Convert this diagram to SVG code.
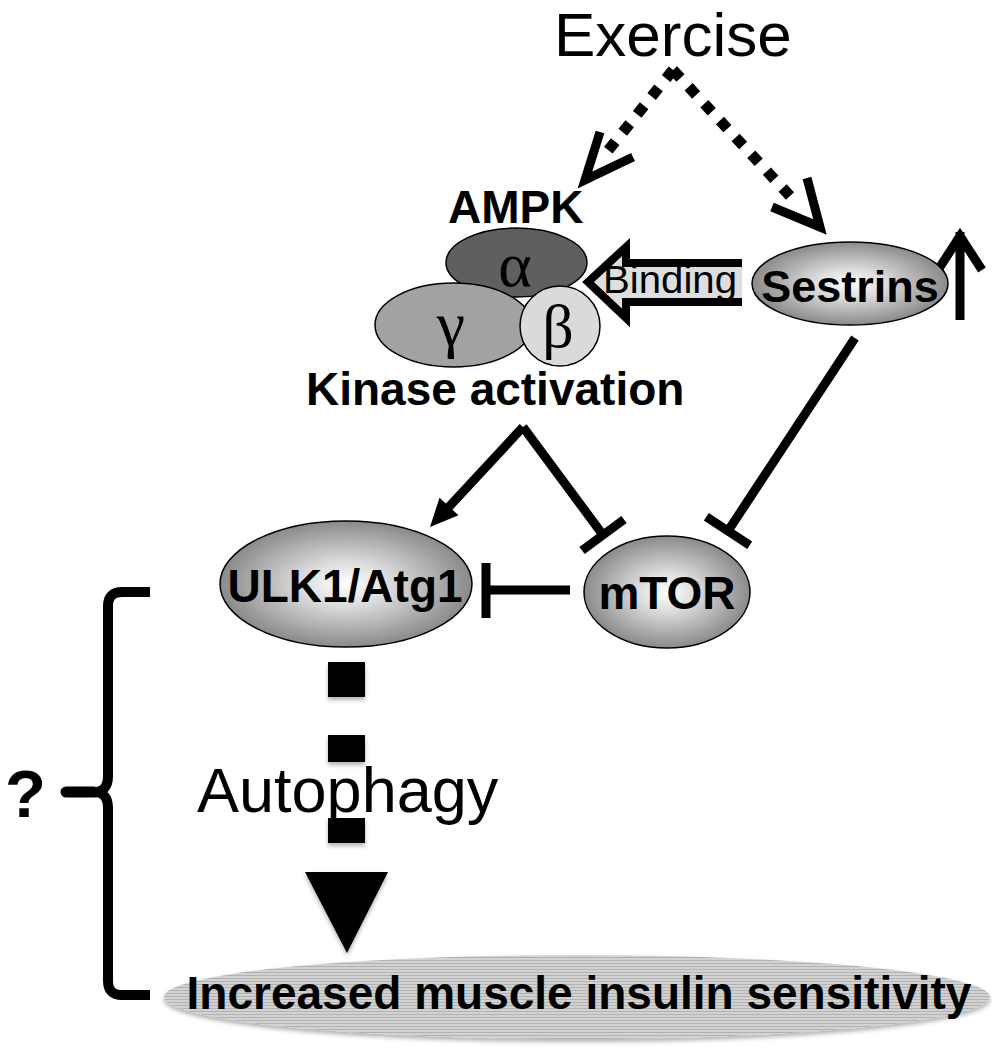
<svg xmlns="http://www.w3.org/2000/svg" width="996" height="1050" viewBox="0 0 996 1050">
<style>
.b{font-family:"Liberation Sans",Arial,sans-serif;font-weight:bold;fill:#000}
.r{font-family:"Liberation Sans",Arial,sans-serif;fill:#000}
.g{font-family:"Liberation Serif","Times New Roman",serif;fill:#000}
.node{fill:url(#rg);stroke:#000;stroke-width:1.5}
.ln{fill:none;stroke:#000;stroke-width:9}
.dot{fill:none;stroke:#000;stroke-width:11;stroke-dasharray:11 12}
</style>
<defs>
<radialGradient id="rg" cx="50%" cy="50%" r="50%">
<stop offset="0" stop-color="#ffffff"/>
<stop offset="0.35" stop-color="#dcdcdc"/>
<stop offset="1" stop-color="#8a8a8a"/>
</radialGradient>
<pattern id="stripe" patternUnits="userSpaceOnUse" width="6" height="3">
<rect width="6" height="3" fill="#d2d2d2"/>
<rect width="6" height="1" fill="#b2b2b2"/>
</pattern>
<filter id="sh" x="-5%" y="-20%" width="110%" height="150%">
<feDropShadow dx="0" dy="3" stdDeviation="2" flood-color="#000" flood-opacity="0.3"/>
</filter>
</defs>
<rect width="996" height="1050" fill="#fff"/>

<g id="connectors">
<!-- Exercise dotted arrows -->
<path class="dot" d="M673,70 L606,153"/>
<path class="ln" d="M600,132 L585,180 L633,157"/>
<path class="dot" d="M673,70 L790,196"/>
<path class="ln" d="M807,178 L820,227 L772,207"/>
<!-- Binding arrow -->
<path d="M742,263 L626,263 L626,247 L588,282 L626,318 L626,302 L742,302" fill="#dedede" stroke="#000" stroke-width="8"/>
<!-- Sestrins up arrow -->
<path class="ln" d="M960,320 L960,232 M938,270 L960,236 L982,270"/>
<!-- Kinase activation -> ULK1 -->
<path class="ln" d="M523,427 L446,510"/>
<polygon points="430,527 439.5,497.7 458.5,515.3" fill="#000"/>
<!-- Kinase activation -| mTOR -->
<path class="ln" d="M523,427 L603,535 M582,550.5 L624,519.5"/>
<!-- Sestrins -| mTOR -->
<path class="ln" d="M855,338 L728,531 M706.3,516.7 L749.7,545.3"/>
<!-- mTOR -| ULK1 -->
<path class="ln" d="M570,590 L486,590 M486,563 L486,618"/>
<!-- Autophagy dashed arrow -->
<g filter="url(#sh)">
<rect x="328" y="662" width="37" height="35" fill="#000"/>
<rect x="328" y="735" width="37" height="27" fill="#000"/>
<rect x="328" y="818" width="37" height="25" fill="#000"/>
<polygon points="305,872 388,872 347,953" fill="#000"/>
</g>
</g>

<g id="exercise">
<text class="r" x="554" y="56" font-size="62">Exercise</text>
</g>

<g id="ampk">
<text class="b" x="448" y="223" font-size="46">AMPK</text>
<ellipse cx="516.5" cy="262.5" rx="70.5" ry="34.5" fill="#5f5f5f" stroke="#000" stroke-width="1.5"/>
<ellipse cx="453.5" cy="325" rx="78.5" ry="42" fill="#a2a2a2" stroke="#000" stroke-width="1.5"/>
<circle cx="560" cy="326" r="40" fill="#dadada" stroke="#000" stroke-width="1.5"/>
<text class="g" x="515" y="286" font-size="64" text-anchor="middle">α</text>
<text class="g" x="451" y="345" font-size="64" text-anchor="middle">γ</text>
<text class="g" x="558" y="347" font-size="62" text-anchor="middle">β</text>
<text class="b" x="306" y="405" font-size="46">Kinase activation</text>
</g>

<g id="binding">
<text class="r" x="603" y="293" font-size="38" textLength="134" lengthAdjust="spacingAndGlyphs">Binding</text>
</g>

<g id="sestrins">
<ellipse class="node" cx="850" cy="283.5" rx="98" ry="41.5"/>
<text class="b" x="850" y="302" font-size="45" text-anchor="middle">Sestrins</text>
</g>

<g id="ulk1">
<ellipse class="node" cx="346" cy="584" rx="126" ry="63"/>
<text class="b" x="345" y="602" font-size="46" text-anchor="middle">ULK1/Atg1</text>
</g>

<g id="mtor">
<ellipse class="node" cx="667" cy="592" rx="83" ry="56"/>
<text class="b" x="667" y="609" font-size="46" text-anchor="middle">mTOR</text>
</g>

<g id="autophagy">
<text class="r" x="197" y="812" font-size="63">Autophagy</text>
</g>

<g id="outcome">
<ellipse cx="577" cy="997" rx="413" ry="42" fill="url(#stripe)" filter="url(#sh)"/>
<text class="b" x="579" y="1009" font-size="46" text-anchor="middle">Increased muscle insulin sensitivity</text>
</g>

<g id="bracket">
<path d="M150,592 L122,592 Q108,592 108,606 L108,776 Q108,792 94,792 M94,792 Q108,792 108,808 L108,981 Q108,995 122,995 L150,995" fill="none" stroke="#000" stroke-width="10"/>
<path d="M94,792 L66,792" stroke="#000" stroke-width="11" stroke-linecap="round"/>
<text class="b" x="5" y="817" font-size="67">?</text>
</g>
</svg>
